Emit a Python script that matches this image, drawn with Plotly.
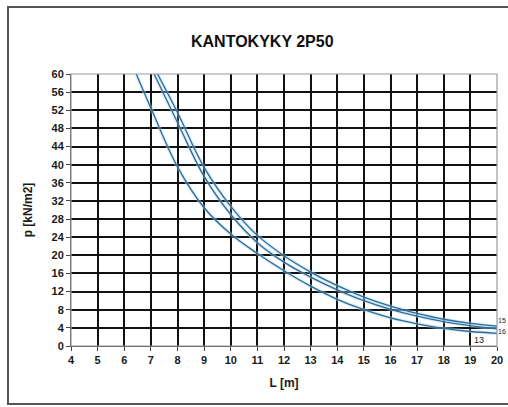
import plotly.graph_objects as go

# Curve data (L [m] -> p [kN/m2])
L_13 = [6.45, 7, 8, 9, 10, 11, 12, 13, 14, 15, 16, 17, 18, 19, 20]
p_13 = [60, 52.5, 39.5, 30.5, 24.7, 20.4, 16.6, 13.2, 10.3, 8.0, 6.2, 4.9, 3.9, 3.2, 2.8]

L_16 = [7.12, 8, 9, 10, 11, 12, 13, 14, 15, 16, 17, 18, 19, 20]
p_16 = [60, 49.3, 37.4, 29.0, 22.8, 18.5, 15.2, 12.4, 10.0, 8.1, 6.6, 5.4, 4.5, 3.8]

L_15 = [7.25, 8, 9, 10, 11, 12, 13, 14, 15, 16, 17, 18, 19, 20]
p_15 = [60, 51.5, 39.4, 30.8, 24.4, 19.9, 16.3, 13.3, 10.8, 8.8, 7.2, 5.9, 5.0, 4.4]

x_ticks = list(range(4, 21))
y_ticks = list(range(0, 61, 4))

title_text = "KANTOKYKY 2P50"
x_title = "L [m]"
y_title = "p [kN/m2]"

W, H = 508, 407
ml, mr, mt, mb = 71, 11, 74, 61
pw, ph = W - ml - mr, H - mt - mb

def px_to_paper_x(px):
    return (px - ml) / pw

def px_to_paper_y(py):
    return (H - mb - py) / ph

fig = go.Figure()
line_col = "#2d6b96"
for L, p in [(L_13, p_13), (L_16, p_16), (L_15, p_15)]:
    fig.add_trace(go.Scatter(x=L, y=p, mode="lines", line=dict(color="rgba(170,215,245,0.45)", width=3.5, shape="spline"),
                             hoverinfo="skip", showlegend=False))
    fig.add_trace(go.Scatter(x=L, y=p, mode="lines", line=dict(color=line_col, width=1.3, shape="spline"),
                             showlegend=False))

font_fam = "Liberation Sans, Arial, sans-serif"
tick_font = dict(size=11, family=font_fam, color="#1a1a1a")
title_font = dict(size=12, family=font_fam, color="#1a1a1a")

fig.update_layout(
    width=W, height=H,
    margin=dict(l=ml, r=mr, t=mt, b=mb, autoexpand=False),
    paper_bgcolor="white", plot_bgcolor="white",
    font=dict(family=font_fam, size=11, color="#1a1a1a"),
    xaxis=dict(range=[4, 20], tickvals=x_ticks, ticktext=["<b>%d</b>" % v for v in x_ticks],
               showgrid=True, gridcolor="#111", gridwidth=1.6,
               showline=True, linecolor="#444", linewidth=1, mirror=False,
               ticks="outside", ticklen=4, tickcolor="#444",
               tickfont=tick_font, automargin=False,
               title=dict(text="<b>" + x_title + "</b>", font=title_font, standoff=13),
               zeroline=False, fixedrange=True),
    yaxis=dict(range=[0, 60], tickvals=y_ticks, ticktext=["<b>%d</b>" % v for v in y_ticks],
               showgrid=True, gridcolor="#111", gridwidth=1.6,
               showline=True, linecolor="#444", linewidth=1,
               ticks="outside", ticklen=4, tickcolor="#444",
               tickfont=tick_font, automargin=False,
               title=dict(text="<b>" + y_title + "</b>", font=title_font, standoff=16),
               zeroline=False, fixedrange=True),
    showlegend=False,
)

# plot border (top/right light gray)
fig.add_shape(type="rect", xref="paper", yref="paper", x0=0, y0=0, x1=1, y1=1,
              line=dict(color="#999", width=1.2), layer="above")
# outer frame
fig.add_shape(type="rect", xref="paper", yref="paper",
              x0=px_to_paper_x(8), y0=px_to_paper_y(404), x1=px_to_paper_x(520), y1=px_to_paper_y(7),
              line=dict(color="#555", width=2))

fig.add_annotation(text="<b>" + title_text + "</b>", xref="paper", yref="paper",
                   x=px_to_paper_x(262), y=px_to_paper_y(42), showarrow=False,
                   font=dict(size=16, family=font_fam, color="#111"), xanchor="center", yanchor="middle")

# curve labels
lab_font = dict(size=7, family=font_fam, color="#222")
fig.add_annotation(text="15", x=20, y=5.7, xref="x", yref="y", showarrow=False, xanchor="left", xshift=0,
                   font=lab_font, borderpad=0)
fig.add_annotation(text="16", x=20, y=3.2, xref="x", yref="y", showarrow=False, xanchor="left", xshift=0,
                   font=lab_font, borderpad=0)
fig.add_annotation(text="13", x=19.0, y=1.4, xref="x", yref="y", showarrow=False, xanchor="left", xshift=2,
                   font=dict(size=9, family=font_fam, color="#222"))

fig.write_html("out.html")
